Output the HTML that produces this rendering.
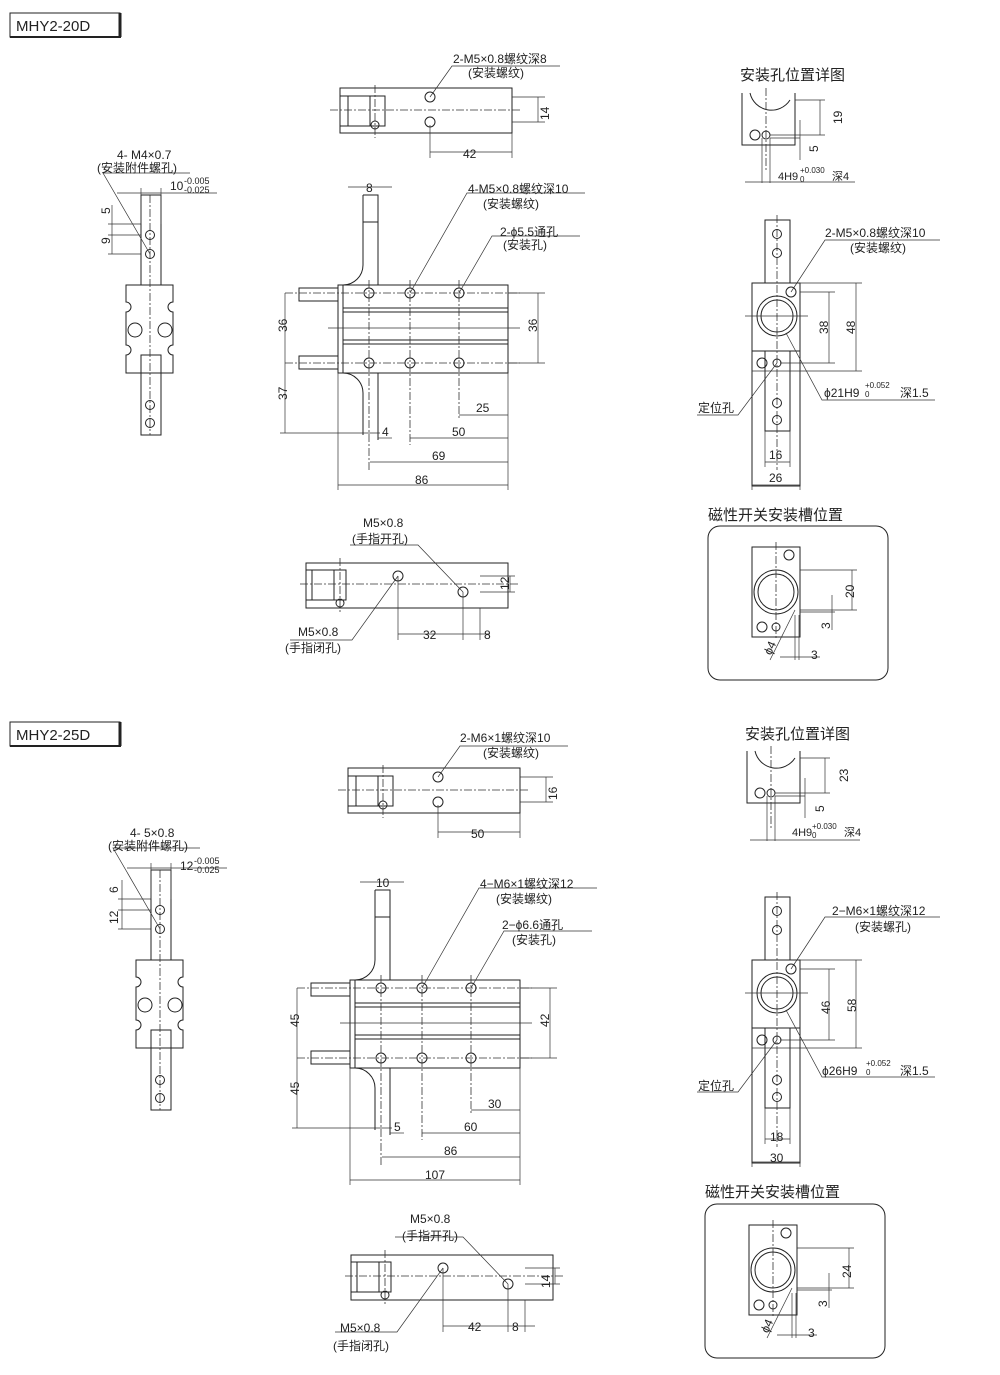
<!DOCTYPE html>
<html><head><meta charset="utf-8"><style>
html,body{margin:0;padding:0;background:#fff}
svg{display:block}
text{font-family:"Liberation Sans","Noto Sans CJK SC",sans-serif;fill:#222;font-size:12px}
.s{stroke:#222;stroke-width:1;fill:none}
.c{stroke:#333;stroke-width:.8;fill:none;stroke-dasharray:8 2 2 2}
.d{stroke:#333;stroke-width:.7;fill:none}
.t{font-size:18px}
</style></head><body>
<svg width="1000" height="1375" viewBox="0 0 1000 1375">
<defs>
<g id="top">
 <rect class="s" x="340" y="88" width="172" height="45"/>
 <rect class="s" x="340" y="96" width="45" height="30"/>
 <rect class="s" x="348" y="96" width="22" height="30"/>
 <line class="c" x1="375" y1="85" x2="375" y2="138"/>
 <circle class="s" cx="375" cy="125" r="4"/>
 <circle class="s" cx="430" cy="97" r="5"/><circle class="s" cx="430" cy="122" r="5"/>
 <line class="c" x1="330" y1="110" x2="520" y2="110"/>
 <line class="d" x1="430" y1="125" x2="430" y2="158"/><line class="d" x1="512" y1="133" x2="512" y2="158"/>
 <line class="d" x1="430" y1="152" x2="512" y2="152"/>
 <line class="d" x1="512" y1="97" x2="545" y2="97"/><line class="d" x1="512" y1="122" x2="545" y2="122"/>
 <line class="d" x1="538" y1="97" x2="538" y2="122"/>
 <polyline class="d" points="430,97 452,66 560,66"/>
</g>
<g id="side">
 <rect class="s" x="141" y="195" width="20" height="90"/>
 <path class="s" d="M126,285 H173 V302 A5,5 0 0 0 173,312 V345 A5,5 0 0 0 173,355 V373 H126 V355 A5,5 0 0 0 126,345 V312 A5,5 0 0 0 126,302 Z"/>
 <rect class="s" x="141" y="355" width="20" height="80"/>
 <line class="c" x1="150" y1="195" x2="150" y2="435"/>
 <circle class="s" cx="150" cy="235" r="4.5"/><circle class="s" cx="150" cy="254" r="4.5"/>
 <circle class="s" cx="150" cy="405" r="4.5"/><circle class="s" cx="150" cy="423" r="4.5"/>
 <circle class="s" cx="135" cy="330" r="7"/><circle class="s" cx="165" cy="330" r="7"/>
 <line class="d" x1="108" y1="224" x2="141" y2="224"/><line class="d" x1="108" y1="235" x2="141" y2="235"/><line class="d" x1="108" y1="254" x2="141" y2="254"/>
 <line class="d" x1="112" y1="205" x2="112" y2="254"/>
 <line class="d" x1="117" y1="193" x2="217" y2="193"/>
 <line class="d" x1="141" y1="188" x2="141" y2="224"/><line class="d" x1="161" y1="188" x2="161" y2="224"/>
 <polyline class="d" points="150,254 103,173 190,173"/>
</g>
<g id="main">
 <rect class="s" x="338" y="285" width="170" height="88"/>
 <line class="s" x1="343" y1="285" x2="343" y2="373"/>
 <line class="s" x1="343" y1="308" x2="508" y2="308"/><line class="s" x1="343" y1="312" x2="508" y2="312"/>
 <line class="s" x1="343" y1="340" x2="508" y2="340"/><line class="s" x1="343" y1="344" x2="508" y2="344"/>
 <rect class="s" x="299" y="288" width="39" height="13"/><rect class="s" x="299" y="356" width="39" height="13"/>
 <path class="s" d="M363,195 H378 V285 M363,195 V265 A20,20 0 0 1 343,285 M363,222 H378"/>
 <path class="s" d="M343,373 A20,20 0 0 1 363,393 V435 M378,373 V440"/>
 <circle class="s" cx="369" cy="293" r="5"/><circle class="s" cx="410" cy="293" r="5"/><circle class="s" cx="459" cy="293" r="5"/>
 <circle class="s" cx="369" cy="363" r="5"/><circle class="s" cx="410" cy="363" r="5"/><circle class="s" cx="459" cy="363" r="5"/>
 <line class="c" x1="285" y1="293" x2="520" y2="293"/><line class="c" x1="285" y1="363" x2="520" y2="363"/>
 <line class="d" x1="328" y1="328" x2="520" y2="328"/>
 <line class="c" x1="369" y1="280" x2="369" y2="470"/><line class="c" x1="410" y1="280" x2="410" y2="445"/><line class="c" x1="459" y1="280" x2="459" y2="420"/>
 <line class="d" x1="285" y1="293" x2="285" y2="433"/><line class="d" x1="280" y1="433" x2="380" y2="433"/>
 <line class="d" x1="508" y1="293" x2="545" y2="293"/><line class="d" x1="508" y1="363" x2="545" y2="363"/><line class="d" x1="538" y1="293" x2="538" y2="363"/>
 <line class="d" x1="508" y1="373" x2="508" y2="490"/><line class="d" x1="338" y1="373" x2="338" y2="490"/>
 <line class="d" x1="459" y1="415" x2="508" y2="415"/><line class="d" x1="410" y1="438" x2="508" y2="438"/>
 <line class="d" x1="370" y1="462" x2="508" y2="462"/><line class="d" x1="338" y1="485" x2="508" y2="485"/>
 <line class="d" x1="378" y1="438" x2="392" y2="438"/><line class="d" x1="348" y1="187" x2="392" y2="187"/>
 <polyline class="d" points="410,293 467,193 585,193"/>
 <polyline class="d" points="459,293 492,236 580,236"/>
</g>
<g id="bot">
 <rect class="s" x="306" y="563" width="202" height="45"/>
 <rect class="s" x="306" y="570" width="40" height="30"/><rect class="s" x="312" y="570" width="22" height="30"/>
 <line class="c" x1="340" y1="558" x2="340" y2="612"/><circle class="s" cx="340" cy="603" r="4"/>
 <circle class="s" cx="398" cy="576" r="5"/><circle class="s" cx="463" cy="592" r="5"/>
 <line class="c" x1="300" y1="584" x2="520" y2="584"/>
 <line class="d" x1="398" y1="576" x2="398" y2="640"/><line class="d" x1="463" y1="592" x2="463" y2="640"/><line class="d" x1="480" y1="608" x2="480" y2="640"/>
 <line class="d" x1="398" y1="634" x2="490" y2="634"/>
 <line class="d" x1="480" y1="576" x2="515" y2="576"/><line class="d" x1="480" y1="592" x2="515" y2="592"/><line class="d" x1="510" y1="576" x2="510" y2="592"/>
 <polyline class="d" points="463,592 418,545 350,545"/>
 <polyline class="d" points="398,576 352,640 290,640"/>
</g>
<g id="det1">
 <path class="s" d="M742,93 V145 H795 V93"/>
 <path class="s" d="M750,93 A22,22 0 0 0 790,100"/>
 <line class="c" x1="766" y1="88" x2="766" y2="170"/>
 <circle class="s" cx="755" cy="135" r="5"/><circle class="s" cx="766" cy="135" r="4"/>
 <line class="d" x1="795" y1="100" x2="825" y2="100"/><line class="d" x1="770" y1="135" x2="825" y2="135"/><line class="d" x1="770" y1="138" x2="800" y2="138"/>
 <line class="d" x1="820" y1="100" x2="820" y2="135"/><line class="d" x1="800" y1="120" x2="800" y2="160"/>
 <line class="d" x1="762" y1="138" x2="762" y2="183"/><line class="d" x1="770" y1="138" x2="770" y2="183"/>
 <line class="d" x1="745" y1="182" x2="855" y2="182"/>
</g>
<g id="det2">
 <rect class="s" x="765" y="220" width="25" height="63"/>
 <rect class="s" x="752" y="283" width="48" height="68"/>
 <rect class="s" x="752" y="351" width="48" height="135"/>
 <rect class="s" x="765" y="351" width="25" height="80"/>
 <circle class="s" cx="777" cy="316" r="20"/><circle class="s" cx="777" cy="316" r="16"/>
 <line class="c" x1="777" y1="215" x2="777" y2="470"/>
 <circle class="s" cx="777" cy="234" r="4.5"/><circle class="s" cx="777" cy="253" r="4.5"/>
 <circle class="s" cx="791" cy="292" r="5"/><circle class="s" cx="762" cy="363" r="5"/><circle class="s" cx="777" cy="363" r="4"/>
 <circle class="s" cx="777" cy="403" r="4.5"/><circle class="s" cx="777" cy="420" r="4.5"/>
 <line class="d" x1="745" y1="316" x2="808" y2="316"/>
 <line class="d" x1="800" y1="283" x2="862" y2="283"/><line class="d" x1="800" y1="292" x2="835" y2="292"/>
 <line class="d" x1="780" y1="363" x2="835" y2="363"/><line class="d" x1="752" y1="371" x2="862" y2="371"/>
 <line class="d" x1="829" y1="292" x2="829" y2="363"/><line class="d" x1="856" y1="283" x2="856" y2="371"/>
 <line class="d" x1="765" y1="431" x2="765" y2="467"/><line class="d" x1="790" y1="431" x2="790" y2="467"/>
 <line class="d" x1="765" y1="462" x2="790" y2="462"/><line class="d" x1="752" y1="486" x2="752" y2="490"/>
 <line class="d" x1="752" y1="485" x2="800" y2="485"/><line class="d" x1="800" y1="486" x2="800" y2="490"/>
 <polyline class="d" points="791,292 825,240 940,240"/>
 <polyline class="d" points="786,333 822,400 935,400"/>
 <polyline class="d" points="777,363 738,415 697,415"/>
</g>
<g id="mag">
 <rect class="s" x="708" y="526" width="180" height="154" rx="12"/>
 <rect class="s" x="752" y="547" width="48" height="90"/>
 <circle class="s" cx="776" cy="592" r="22"/><circle class="s" cx="776" cy="592" r="18"/>
 <line class="c" x1="776" y1="542" x2="776" y2="640"/>
 <circle class="s" cx="789" cy="555" r="5"/><circle class="s" cx="762" cy="627" r="5"/><circle class="s" cx="776" cy="627" r="4"/>
 <line class="d" x1="800" y1="570" x2="857" y2="570"/><line class="d" x1="800" y1="610" x2="857" y2="610"/><line class="d" x1="852" y1="570" x2="852" y2="610"/>
 <line class="d" x1="800" y1="612" x2="835" y2="612"/><line class="d" x1="832" y1="595" x2="832" y2="630"/>
 <line class="d" x1="795" y1="615" x2="795" y2="660"/><line class="d" x1="799" y1="615" x2="799" y2="660"/>
 <line class="d" x1="780" y1="657" x2="820" y2="657"/>
 <line class="d" x1="795" y1="610" x2="770" y2="660"/>
</g>
</defs>

<!-- Section 1 -->
<path class="s" d="M10,13 H120 V37 H10 Z" /><line x1="120" y1="13" x2="120" y2="37" stroke="#222" stroke-width="3"/><line x1="10" y1="37" x2="121" y2="37" stroke="#222" stroke-width="2"/>
<text x="16" y="31" style="font-size:15px">MHY2-20D</text>
<use href="#top"/>
<text x="453" y="63">2-M5×0.8螺纹深8</text><text x="468" y="77">(安装螺纹)</text>
<text x="531" y="118" transform="rotate(-90 541 110)">14</text><text x="463" y="158">42</text>
<use href="#side"/>
<text x="117" y="159">4- M4×0.7</text><text x="97" y="172">(安装附件螺孔)</text>
<text x="170" y="190">10</text><text x="184" y="184" style="font-size:9px">-0.005</text><text x="184" y="193" style="font-size:9px">-0.025</text>
<text x="106" y="218" transform="rotate(-90 106 214)">5</text><text x="106" y="248" transform="rotate(-90 106 244)">9</text>
<use href="#main"/>
<text x="366" y="192">8</text><text x="468" y="193">4-M5×0.8螺纹深10</text><text x="483" y="208">(安装螺纹)</text>
<text x="500" y="236">2-ϕ5.5通孔</text><text x="503" y="249">(安装孔)</text>
<text x="278" y="333" transform="rotate(-90 282 328)">36</text><text x="278" y="401" transform="rotate(-90 282 396)">37</text>
<text x="528" y="333" transform="rotate(-90 532 328)">36</text>
<text x="476" y="412">25</text><text x="452" y="436">50</text><text x="432" y="460">69</text><text x="415" y="484">86</text><text x="382" y="436">4</text>
<use href="#bot"/>
<text x="363" y="527">M5×0.8</text><text x="352" y="543">(手指开孔)</text>
<text x="298" y="636">M5×0.8</text><text x="285" y="652">(手指闭孔)</text>
<text x="423" y="639">32</text><text x="484" y="639">8</text><text x="498" y="589" transform="rotate(-90 504 584)">12</text>
<text x="740" y="80" class="t" style="font-size:15px">安装孔位置详图</text>
<use href="#det1"/>
<text x="832" y="122" transform="rotate(-90 838 118)">19</text><text x="812" y="154" transform="rotate(-90 814 150)">5</text>
<text x="778" y="180" style="font-size:11px">4H9</text><text x="800" y="173" style="font-size:8px">+0.030</text><text x="800" y="182" style="font-size:8px">0</text><text x="832" y="180" style="font-size:11px">深4</text>
<use href="#det2"/>
<text x="825" y="237">2-M5×0.8螺纹深10</text><text x="850" y="252">(安装螺纹)</text>
<text x="818" y="332" transform="rotate(-90 824 328)">38</text><text x="845" y="332" transform="rotate(-90 851 328)">48</text>
<text x="824" y="397">ϕ21H9</text><text x="865" y="388" style="font-size:8px">+0.052</text><text x="865" y="397" style="font-size:8px">0</text><text x="900" y="397">深1.5</text>
<text x="698" y="412">定位孔</text><text x="769" y="459">16</text><text x="769" y="482">26</text>
<text x="708" y="520" style="font-size:15px">磁性开关安装槽位置</text>
<use href="#mag"/>
<text x="843" y="597" transform="rotate(-90 849 592)">20</text><text x="822" y="629" transform="rotate(-90 826 625)">3</text>
<text x="811" y="659">3</text><text x="764" y="655" transform="rotate(-65 768 650)">ϕ4</text>

<!-- Section 2 -->
<path class="s" d="M10,722 H120 V746 H10 Z"/><line x1="120" y1="722" x2="120" y2="746" stroke="#222" stroke-width="3"/><line x1="10" y1="746" x2="121" y2="746" stroke="#222" stroke-width="2"/>
<text x="16" y="740" style="font-size:15px">MHY2-25D</text>
<use href="#top" transform="translate(8,680)"/>
<text x="460" y="742">2-M6×1螺纹深10</text><text x="483" y="757">(安装螺纹)</text>
<text x="539" y="798" transform="rotate(-90 549 790)">16</text><text x="471" y="838">50</text>
<use href="#side" transform="translate(10,675)"/>
<text x="130" y="837">4- 5×0.8</text><text x="108" y="850">(安装附件螺孔)</text>
<text x="180" y="870">12</text><text x="194" y="864" style="font-size:9px">-0.005</text><text x="194" y="873" style="font-size:9px">-0.025</text>
<text x="114" y="897" transform="rotate(-90 114 893)">6</text><text x="114" y="928" transform="rotate(-90 114 924)">12</text>
<use href="#main" transform="translate(12,695)"/>
<text x="376" y="887">10</text><text x="480" y="888">4−M6×1螺纹深12</text><text x="496" y="903">(安装螺纹)</text>
<text x="502" y="929">2−ϕ6.6通孔</text><text x="512" y="944">(安装孔)</text>
<text x="290" y="1028" transform="rotate(-90 294 1023)">45</text><text x="290" y="1096" transform="rotate(-90 294 1091)">45</text>
<text x="540" y="1028" transform="rotate(-90 544 1023)">42</text>
<text x="488" y="1108">30</text><text x="464" y="1131">60</text><text x="444" y="1155">86</text><text x="425" y="1179">107</text><text x="394" y="1131">5</text>
<use href="#bot" transform="translate(45,692)"/>
<text x="410" y="1223">M5×0.8</text><text x="402" y="1240">(手指开孔)</text>
<text x="340" y="1332">M5×0.8</text><text x="333" y="1350">(手指闭孔)</text>
<text x="468" y="1331">42</text><text x="512" y="1331">8</text><text x="538" y="1286" transform="rotate(-90 545 1281)">14</text>
<text x="745" y="739" style="font-size:15px">安装孔位置详图</text>
<use href="#det1" transform="translate(5,658)"/>
<text x="838" y="780" transform="rotate(-90 844 776)">23</text><text x="818" y="814" transform="rotate(-90 820 810)">5</text>
<text x="792" y="836" style="font-size:11px">4H9</text><text x="812" y="829" style="font-size:8px">+0.030</text><text x="812" y="838" style="font-size:8px">0</text><text x="844" y="836" style="font-size:11px">深4</text>
<use href="#det2" transform="translate(0,677)"/>
<text x="832" y="915">2−M6×1螺纹深12</text><text x="855" y="931">(安装螺孔)</text>
<text x="820" y="1012" transform="rotate(-90 826 1008)">46</text><text x="846" y="1010" transform="rotate(-90 852 1006)">58</text>
<text x="822" y="1075">ϕ26H9</text><text x="866" y="1066" style="font-size:8px">+0.052</text><text x="866" y="1075" style="font-size:8px">0</text><text x="900" y="1075">深1.5</text>
<text x="698" y="1090">定位孔</text><text x="770" y="1141">18</text><text x="770" y="1162">30</text>
<text x="705" y="1197" style="font-size:15px">磁性开关安装槽位置</text>
<use href="#mag" transform="translate(-3,678)"/>
<text x="840" y="1277" transform="rotate(-90 846 1272)">24</text><text x="819" y="1307" transform="rotate(-90 823 1303)">3</text>
<text x="808" y="1337">3</text><text x="761" y="1333" transform="rotate(-65 765 1328)">ϕ4</text>
</svg>
</body></html>
